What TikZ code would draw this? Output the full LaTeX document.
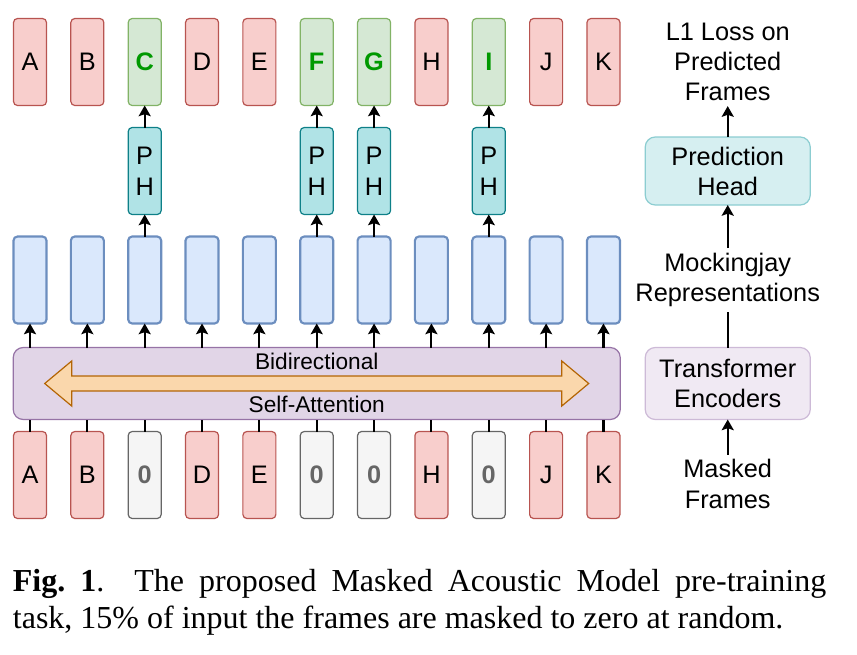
\documentclass[tikz,border=0pt]{standalone}
\usepackage{fontspec}
\setmainfont{Liberation Serif}
\setsansfont{Liberation Sans}
\usepackage{xcolor}
\usetikzlibrary{arrows.meta,positioning}

\definecolor{redfill}{HTML}{F8CECC}
\definecolor{redline}{HTML}{B85450}
\definecolor{greenfill}{HTML}{D5E8D4}
\definecolor{greenline}{HTML}{82B366}
\definecolor{greentext}{HTML}{009900}
\definecolor{grayfill}{HTML}{F5F5F5}
\definecolor{grayline}{HTML}{666666}
\definecolor{bluefill}{HTML}{DAE8FC}
\definecolor{blueline}{HTML}{6C8EBF}
\definecolor{cyanfill}{HTML}{B0E3E6}
\definecolor{cyanline}{HTML}{0E8088}
\definecolor{purplefill}{HTML}{E1D5E7}
\definecolor{purpleline}{HTML}{9673A6}
\definecolor{orangefill}{HTML}{FAD7AC}
\definecolor{orangeline}{HTML}{B46504}
\definecolor{headfill}{HTML}{D6EFF1}
\definecolor{headline}{HTML}{8CCDD1}
\definecolor{encfill}{HTML}{F0E9F3}
\definecolor{encline}{HTML}{CDBAD7}

\begin{document}
\begin{tikzpicture}[
    node distance=16.5pt and 18.26pt,
    inframe/.style={rectangle, rounded corners=3pt, draw=redline, fill=redfill, line width=0.9pt, minimum width=24.75pt, minimum height=65.25pt, inner sep=0pt, outer sep=0pt, align=center, font=\sffamily\fontsize{19}{23}\selectfont},
    zeroframe/.style={inframe, draw=grayline, fill=grayfill, text=grayline, font=\sffamily\bfseries\fontsize{19}{23}\selectfont},
    outframe/.style={inframe, draw=greenline, fill=greenfill, text=greentext, font=\sffamily\bfseries\fontsize{19}{23}\selectfont},
    repbox/.style={inframe, draw=blueline, fill=bluefill, line width=1.6pt},
    phbox/.style={inframe, draw=cyanline, fill=cyanfill},
    encoder/.style={rectangle, rounded corners=7.5pt, draw=purpleline, fill=purplefill, line width=0.9pt, outer sep=0pt, minimum width=455.25pt, minimum height=54pt},
    block/.style={rectangle, rounded corners=7.5pt, line width=0.9pt, outer sep=0pt, minimum width=123.75pt, align=center, font=\sffamily\fontsize{19}{22.5}\selectfont},
    note/.style={align=center, inner sep=3.5pt, font=\sffamily\fontsize{19}{22.75}\selectfont},
    bidi/.style={draw=orangeline, fill=orangefill, line width=0.9pt, line join=miter},
    caption/.style={text width=610pt, align=justify, inner sep=0pt, font=\rmfamily\fontsize{24}{28}\selectfont},
    arrow/.style={-{Stealth[width=9pt,length=8pt,inset=1.5pt]}, line width=1.6pt},
    link/.style={line width=1.6pt}
]
    \useasboundingbox (0,0) rectangle (642.75pt,-490.5pt);

    % masked input frames
    \node[inframe] (in1) at (22.5pt,-356.25pt) {A};
    \node[inframe, right=of in1] (in2) {B};
    \node[zeroframe, right=of in2] (in3) {0};
    \node[inframe, right=of in3] (in4) {D};
    \node[inframe, right=of in4] (in5) {E};
    \node[zeroframe, right=of in5] (in6) {0};
    \node[zeroframe, right=of in6] (in7) {0};
    \node[inframe, right=of in7] (in8) {H};
    \node[zeroframe, right=of in8] (in9) {0};
    \node[inframe, right=of in9] (in10) {J};
    \node[inframe, right=of in10] (in11) {K};

    % transformer encoders
    \node[encoder, above=9pt of in6] (enc) {};

    % representations
    \node[repbox, anchor=south, yshift=18pt] (rep1) at (in1 |- enc.north) {};
    \node[repbox, right=of rep1] (rep2) {};
    \node[repbox, right=of rep2] (rep3) {};
    \node[repbox, right=of rep3] (rep4) {};
    \node[repbox, right=of rep4] (rep5) {};
    \node[repbox, right=of rep5] (rep6) {};
    \node[repbox, right=of rep6] (rep7) {};
    \node[repbox, right=of rep7] (rep8) {};
    \node[repbox, right=of rep8] (rep9) {};
    \node[repbox, right=of rep9] (rep10) {};
    \node[repbox, right=of rep10] (rep11) {};

    % prediction heads
    \node[phbox, above=of rep3] (ph3) {P\\H};
    \node[phbox, above=of rep6] (ph6) {P\\H};
    \node[phbox, above=of rep7] (ph7) {P\\H};
    \node[phbox, above=of rep9] (ph9) {P\\H};

    % predicted frames
    \node[outframe, above=of ph3] (out3) {C};
    \node[inframe, left=of out3] (out2) {B};
    \node[inframe, left=of out2] (out1) {A};
    \node[inframe, right=of out3] (out4) {D};
    \node[inframe, right=of out4] (out5) {E};
    \node[outframe, right=of out5] (out6) {F};
    \node[outframe, right=of out6] (out7) {G};
    \node[inframe, right=of out7] (out8) {H};
    \node[outframe, right=of out8] (out9) {I};
    \node[inframe, right=of out9] (out10) {J};
    \node[inframe, right=of out10] (out11) {K};

    % inputs into the encoder
    \draw[link] (in1) -- (in1 |- enc.south);
    \draw[link] (in2) -- (in2 |- enc.south);
    \draw[link] (in3) -- (in3 |- enc.south);
    \draw[link] (in4) -- (in4 |- enc.south);
    \draw[link] (in5) -- (in5 |- enc.south);
    \draw[link] (in6) -- (in6 |- enc.south);
    \draw[link] (in7) -- (in7 |- enc.south);
    \draw[link] (in8) -- (in8 |- enc.south);
    \draw[link] (in9) -- (in9 |- enc.south);
    \draw[link] (in10) -- (in10 |- enc.south);
    \draw[link] (in11) -- (in11 |- enc.south);

    % encoder out to representations
    \draw[arrow] (enc.north -| rep1) -- (rep1);
    \draw[arrow] (enc.north -| rep2) -- (rep2);
    \draw[arrow] (enc.north -| rep3) -- (rep3);
    \draw[arrow] (enc.north -| rep4) -- (rep4);
    \draw[arrow] (enc.north -| rep5) -- (rep5);
    \draw[arrow] (enc.north -| rep6) -- (rep6);
    \draw[arrow] (enc.north -| rep7) -- (rep7);
    \draw[arrow] (enc.north -| rep8) -- (rep8);
    \draw[arrow] (enc.north -| rep9) -- (rep9);
    \draw[arrow] (enc.north -| rep10) -- (rep10);
    \draw[arrow] (enc.north -| rep11) -- (rep11);

    % heads on the masked positions
    \draw[arrow] (rep3) -- (ph3);
    \draw[arrow] (rep6) -- (ph6);
    \draw[arrow] (rep7) -- (ph7);
    \draw[arrow] (rep9) -- (ph9);
    \draw[arrow] (ph3) -- (out3);
    \draw[arrow] (ph6) -- (out6);
    \draw[arrow] (ph7) -- (out7);
    \draw[arrow] (ph9) -- (out9);

    % self-attention arrow
    \draw[bidi] ([xshift=-204pt]enc.center) -- ++(20.25pt,16.9pt) -- ++(0,-11.3pt) -- ++(367.5pt,0) -- ++(0,11.3pt) -- ++(20.25pt,-16.9pt) -- ++(-20.25pt,-16.9pt) -- ++(0,11.3pt) -- ++(-367.5pt,0) -- ++(0,-11.3pt) -- cycle;
    \node[font=\sffamily\fontsize{17}{20}\selectfont] (bidir) at ([yshift=16.3pt]enc.center) {Bidirectional};
    \node[font=\sffamily\fontsize{17}{20}\selectfont] (selfatt) at ([yshift=-15.3pt]enc.center) {Self-Attention};

    % legend column
    \node[block, draw=encline, fill=encfill, minimum height=54pt, right=18.75pt of enc] (tenc) {Transformer\\Encoders};
    \node[block, draw=headline, fill=headfill, minimum height=51pt] (phead) at (tenc |- ph3) {Prediction\\Head};
    \node[note] (mock) at (tenc |- rep1) {Mockingjay\\Representations};
    \node[note] (loss) at (tenc |- out1) {L1 Loss on\\Predicted\\Frames};
    \node[note, yshift=-6.75pt] (mframes) at (tenc |- in1) {Masked\\Frames};

    \draw[arrow] (mframes) -- (tenc);
    \draw[link] (tenc) -- (mock);
    \draw[arrow] (mock) -- (phead);
    \draw[arrow] (phead) -- (loss);

    % caption
    \node[caption, anchor=north west] (cap) at (9.5pt,-426.5pt) {\textbf{Fig.~1}.\ \ The proposed Masked Acoustic Model pre-training\linebreak task, 15\% of input the frames are masked to zero at random.};
\end{tikzpicture}
\end{document}
